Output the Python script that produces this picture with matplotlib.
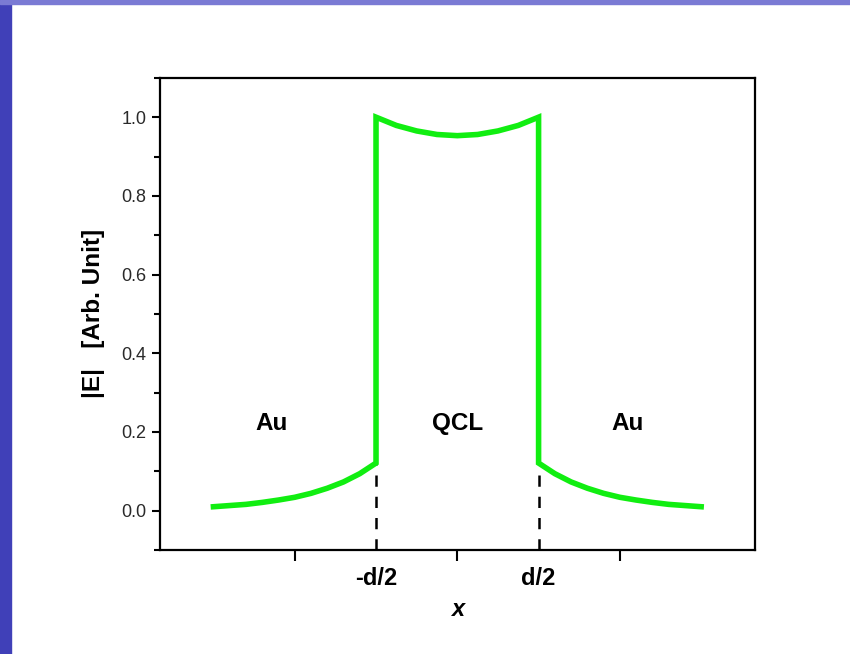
import matplotlib.pyplot as plt
import numpy as np
from matplotlib.ticker import MultipleLocator
from matplotlib.patches import Rectangle

plt.rcParams['font.family'] = ['Liberation Sans', 'DejaVu Sans']

# field profile (x in units of d)
x_au_left = [-1.5, -1.4, -1.3, -1.2, -1.1, -1.0, -0.9, -0.8, -0.7, -0.6, -0.5]
e_au_left = [0.010, 0.013, 0.016, 0.021, 0.027, 0.034, 0.044, 0.057, 0.073, 0.094, 0.121]
x_qcl = [-0.5, -0.375, -0.25, -0.125, 0.0, 0.125, 0.25, 0.375, 0.5]
e_qcl = [1.0, 0.979, 0.965, 0.956, 0.953, 0.956, 0.965, 0.979, 1.0]
x_au_right = [0.5, 0.6, 0.7, 0.8, 0.9, 1.0, 1.1, 1.2, 1.3, 1.4, 1.5]
e_au_right = [0.121, 0.094, 0.073, 0.057, 0.044, 0.034, 0.027, 0.021, 0.016, 0.013, 0.010]

regions = ['Au', 'QCL', 'Au']
region_x = [-1.14, 0.0, 1.05]
interfaces = [-0.5, 0.5]
interface_labels = ['-d/2', 'd/2']

x_all = x_au_left + x_qcl + x_au_right
e_all = e_au_left + e_qcl + e_au_right

fig = plt.figure(figsize=(8.5, 6.54), dpi=100)
# slide background strips
fig.patches.append(Rectangle((0, 0), 11/850, 1, transform=fig.transFigure,
                             color='#4040b8', zorder=0))
fig.patches.append(Rectangle((0, 1 - 4/654), 1, 4/654, transform=fig.transFigure,
                             color='#7a7ad4', zorder=0))

ax = fig.add_axes([0.188, 0.159, 0.700, 0.722])

ax.plot(x_all, e_all, color='#11ee11', lw=4.0, solid_joinstyle='miter', zorder=3)
for xi, yi in zip(interfaces, [e_au_left[-1], e_au_right[0]]):
    ax.plot([xi, xi], [-0.1, yi], color='black', lw=1.8, dashes=(4.5, 4), zorder=2)

for t, xr in zip(regions, region_x):
    ax.text(xr, 0.222, t, ha='center', va='center', fontsize=17.5, fontweight='bold')

ax.set_xlim(-1.83, 1.83)
ax.set_ylim(-0.1, 1.1)

ax.set_xticks([-1, 0, 1])
ax.set_xticklabels(['', '', ''])
ax.set_xticks(interfaces, minor=True)
ax.set_xticklabels(interface_labels, minor=True, fontsize=17, fontweight='bold')
ax.tick_params(axis='x', which='major', direction='out', length=8, width=1.5)
ax.tick_params(axis='x', which='minor', length=0, pad=12)

ax.yaxis.set_major_locator(MultipleLocator(0.2))
ax.yaxis.set_minor_locator(MultipleLocator(0.1))
ax.yaxis.set_major_formatter(plt.FormatStrFormatter('%.1f'))
ax.tick_params(axis='y', which='major', direction='out', length=6, width=1.5,
               labelsize=13, labelcolor='#2a2a2a', pad=3.5)
ax.tick_params(axis='y', which='minor', direction='out', length=4, width=1.5)

for s in ax.spines.values():
    s.set_linewidth(1.6)

ax.set_xlabel('x', fontsize=17, fontweight='bold', style='italic', labelpad=6)
ax.set_ylabel('|E|   [Arb. Unit]', fontsize=17.5, fontweight='bold', labelpad=12)

plt.savefig('out.png', dpi=100)
